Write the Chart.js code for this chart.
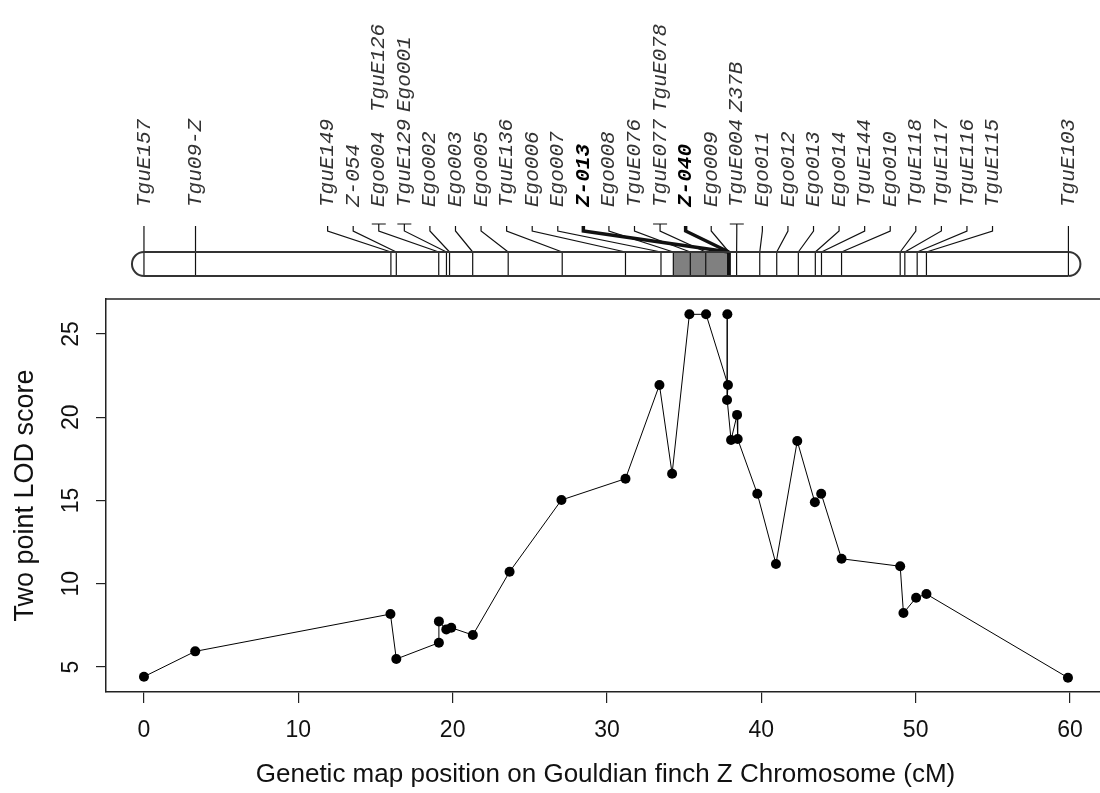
<!DOCTYPE html>
<html>
<head>
<meta charset="utf-8">
<script src="https://cdn.jsdelivr.net/npm/chart.js@4"></script>
<style>
  html, body { margin: 0; padding: 0; background: #fff; overflow: hidden; }
</style>
</head>
<body>
<canvas id="lodChart" width="1110" height="793"></canvas>
<script>
// two point LOD score at each mapped marker (cM, LOD), in drawing order
const mapPos = [0, 3.32, 15.97, 16.35, 19.11, 19.11, 19.59, 19.91, 21.31, 23.69, 27.05,
  31.2, 33.4, 34.22, 35.34, 36.42, 37.84, 37.8, 37.78, 38.04, 38.43, 38.47, 39.74,
  40.95, 42.33, 43.47, 43.88, 45.2, 49.0, 49.21, 50.03, 50.7, 59.87];
const lodScore = [4.42, 5.94, 8.18, 5.48, 6.46, 7.74, 7.26, 7.36, 6.92, 10.72, 15.03,
  16.31, 21.94, 16.61, 26.18, 26.18, 21.94, 26.18, 21.04, 18.63, 20.14, 18.69, 15.41,
  11.19, 18.57, 14.89, 15.41, 11.5, 11.05, 8.24, 9.16, 9.38, 4.36];

// chromosome markers: bottom-row label, label stacked above it (same spot), map position
const markerNames = ['TguE157', 'Tgu09-Z', 'TguE149', 'Z-054', 'Ego004', 'TguE129', 'Ego002',
  'Ego003', 'Ego005', 'TguE136', 'Ego006', 'Ego007', 'Z-013', 'Ego008', 'TguE076', 'TguE077',
  'Z-040', 'Ego009', 'TguE004', 'Ego011', 'Ego012', 'Ego013', 'Ego014', 'TguE144', 'Ego010',
  'TguE118', 'TguE117', 'TguE116', 'TguE115', 'TguE103'];
const markerTwins = ['', '', '', '', 'TguE126', 'Ego001', '', '', '', '', '', '', '', '', '',
  'TguE078', '', '', 'Z37B', '', '', '', '', '', '', '', '', '', '', ''];
const markerCM = [0, 3.34, 16.0, 16.35, 19.1, 19.6, 19.8, 21.3, 23.6, 27.1, 31.2, 33.5, 37.9,
  34.3, 35.4, 36.4, 37.9, 37.9, 38.4, 39.9, 41.0, 42.4, 43.5, 43.9, 45.2, 49.0, 49.3, 50.1,
  50.7, 59.9];
const boldMarkers = ['Z-013', 'Z-040'];
const intervalCM = [34.3, 37.9];

const xTicks = [0, 10, 20, 30, 40, 50, 60];
const yTicks = [5, 10, 15, 20, 25];

const sans = '"Liberation Sans", Arial, sans-serif';
const ink = '#222';

// chromosome drawing above the plot, placed with the x scale
const chromosomePlugin = {
  id: 'chromosome',
  afterDraw(chart) {
    const ctx = chart.ctx;
    const xs = chart.scales.x;
    const area = chart.chartArea;
    const px = v => xs.getPixelForValue(v);
    const chrTop = 252, chrBot = 276, chrMid = (chrTop + chrBot) / 2;
    const tickY = 224, stubTop = 226, elbow = 231;
    const row1 = 207, row2 = 112;
    // crowded middle labels are spread evenly, the outer ones sit on their marker
    const slotFirst = 11.9, slotStep = 1.657;
    const n = markerNames.length;
    const labelCM = markerCM.map((c, i) => (i >= 2 && i < n - 1) ? slotFirst + (i - 2) * slotStep : c);

    ctx.save();
    // top side of plot box (runs off the right edge, like the original)
    ctx.strokeStyle = ink;
    ctx.lineWidth = 1.5;
    ctx.beginPath();
    ctx.moveTo(area.left, area.top);
    ctx.lineTo(chart.width, area.top);
    ctx.stroke();

    // shaded interval
    ctx.fillStyle = '#808080';
    ctx.fillRect(px(intervalCM[0]), chrTop, px(intervalCM[1]) - px(intervalCM[0]), chrBot - chrTop);

    // marker lines across the chromosome + connectors
    ctx.strokeStyle = '#111';
    markerNames.forEach((name, i) => {
      const mx = px(markerCM[i]);
      const lx = px(labelCM[i]);
      const bold = boldMarkers.includes(name);
      ctx.lineWidth = bold ? 3.5 : 1.2;
      ctx.beginPath();
      ctx.moveTo(mx, chrTop);
      ctx.lineTo(mx, chrBot);
      ctx.stroke();
      ctx.beginPath();
      if (markerTwins[i]) {
        ctx.moveTo(lx - 7, tickY);
        ctx.lineTo(lx + 7, tickY);
        ctx.moveTo(lx, tickY);
      } else {
        ctx.moveTo(lx, stubTop);
      }
      ctx.lineTo(lx, elbow);
      ctx.lineTo(mx, chrTop);
      ctx.stroke();
    });

    // chromosome outline with rounded ends
    const x0 = px(markerCM[0]), x1 = px(markerCM[n - 1]);
    const r = (chrBot - chrTop) / 2;
    ctx.strokeStyle = '#333';
    ctx.lineWidth = 2;
    ctx.beginPath();
    ctx.moveTo(x0, chrTop);
    ctx.lineTo(x1, chrTop);
    ctx.moveTo(x0, chrBot);
    ctx.lineTo(x1, chrBot);
    ctx.stroke();
    ctx.beginPath();
    ctx.arc(x0, chrMid, r, Math.PI / 2, Math.PI * 1.5);
    ctx.stroke();
    ctx.beginPath();
    ctx.arc(x1, chrMid, r, -Math.PI / 2, Math.PI / 2);
    ctx.stroke();

    // rotated marker names
    ctx.textAlign = 'left';
    ctx.textBaseline = 'middle';
    markerNames.forEach((name, i) => {
      const lx = px(labelCM[i]);
      const bold = boldMarkers.includes(name);
      ctx.font = (bold ? 'italic bold ' : 'italic ') + '21px "Liberation Mono", monospace';
      ctx.fillStyle = bold ? '#000' : '#333';
      ctx.save();
      ctx.translate(lx, row1);
      ctx.rotate(-Math.PI / 2);
      ctx.fillText(name, 0, 0);
      ctx.restore();
      if (markerTwins[i]) {
        ctx.font = 'italic 21px "Liberation Mono", monospace';
        ctx.fillStyle = '#333';
        ctx.save();
        ctx.translate(lx, row2);
        ctx.rotate(-Math.PI / 2);
        ctx.fillText(markerTwins[i], 0, 0);
        ctx.restore();
      }
    });
    ctx.restore();
  }
};

const ctx = document.getElementById('lodChart').getContext('2d');
new Chart(ctx, {
  type: 'line',
  data: {
    datasets: [{
      data: mapPos.map((p, i) => ({ x: p, y: lodScore[i] })),
      borderColor: '#000',
      borderWidth: 1,
      pointRadius: 5,
      pointBorderWidth: 0,
      pointBackgroundColor: '#000',
      tension: 0,
      fill: false
    }]
  },
  options: {
    responsive: false,
    animation: false,
    layout: { padding: { top: 299, left: 0, right: 0, bottom: 0 } },
    plugins: { legend: { display: false }, tooltip: { enabled: false } },
    scales: {
      x: {
        type: 'linear',
        min: -2.46,
        max: 62.27,
        afterBuildTicks: s => { s.ticks = xTicks.map(v => ({ value: v })); },
        afterFit: s => { s.height = 101; },
        grid: { drawOnChartArea: false, drawTicks: true, tickLength: 11, color: ink, lineWidth: 1.2 },
        border: { display: true, color: ink, width: 1.5 },
        ticks: { color: '#111', font: { family: sans, size: 23 }, padding: 14, maxRotation: 0, minRotation: 0 },
        title: {
          display: true,
          text: 'Genetic map position on Gouldian finch Z Chromosome (cM)',
          color: '#111',
          font: { family: sans, size: 26 },
          padding: { top: 0, bottom: 3 }
        }
      },
      y: {
        type: 'linear',
        min: 3.5,
        max: 27.1,
        afterBuildTicks: s => { s.ticks = yTicks.map(v => ({ value: v })); },
        afterFit: s => { s.width = 106; },
        grid: { drawOnChartArea: false, drawTicks: true, tickLength: 10, color: ink, lineWidth: 1.2 },
        border: { display: true, color: ink, width: 1.5 },
        ticks: { color: '#111', font: { family: sans, size: 23 }, padding: 12, minRotation: 90, maxRotation: 90, crossAlign: 'center' },
        title: {
          display: true,
          text: 'Two point LOD score',
          color: '#111',
          font: { family: sans, size: 27 },
          padding: { top: 9, bottom: 0 }
        }
      }
    }
  },
  plugins: [chromosomePlugin]
});
</script>
</body>
</html>
